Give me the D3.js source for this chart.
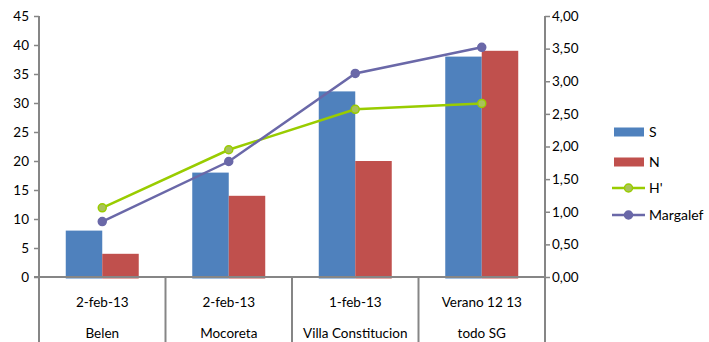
<!DOCTYPE html>
<html>
<head>
<meta charset="utf-8">
<script src="https://cdn.jsdelivr.net/npm/d3@7"></script>
<style>
  html, body { margin: 0; padding: 0; background: #fff; }
  svg { display: block; font-family: Lato, "Open Sans", sans-serif; }
</style>
</head>
<body>
<svg id="chart" width="709" height="342"></svg>
<script>
// Sampling sites and their two label rows
const sites = ["Belen", "Mocoreta", "Villa Constitucion", "todo SG"];
const dates = ["2-feb-13", "2-feb-13", "1-feb-13", "Verano 12 13"];

// Bar series (left axis)
const S = [8, 18, 32, 38];
const N = [4, 14, 20, 39];

// Line series (right axis)
const H = [1.06, 1.95, 2.57, 2.66];
const Margalef = [0.85, 1.77, 3.12, 3.52];

// Axis tick values
const leftTicks = [0, 5, 10, 15, 20, 25, 30, 35, 40, 45];
const rightTicks = [0, 0.5, 1, 1.5, 2, 2.5, 3, 3.5, 4];

const colors = { S: "#4F81BD", N: "#C0504D", H: "#99CC00", M: "#6A68A8" };
const axisColor = "#868686";

const svg = d3.select("#chart");
const plotLeft = 39, plotRight = 545, plotTop = 16, zeroY = 277, plotBottom = 342;

const x = d3.scaleBand().domain(sites).range([plotLeft, plotRight]).paddingInner(0).paddingOuter(0);
const xs = d3.scaleBand().domain(["S", "N"]).range([0, x.bandwidth()]).paddingInner(0).paddingOuter(0.733);
const yL = d3.scaleLinear().domain([0, 45]).range([zeroY, plotTop]);
const yR = d3.scaleLinear().domain([0, 4]).range([zeroY, plotTop]);

const comma = d3.formatLocale({ decimal: ",", thousands: ".", grouping: [3], currency: ["", ""] }).format(".2f");

// Bars
const barData = [];
sites.forEach((s, i) => {
  barData.push({ site: s, key: "S", v: S[i] });
  barData.push({ site: s, key: "N", v: N[i] });
});
svg.append("g").selectAll("rect").data(barData).join("rect")
  .attr("x", d => x(d.site) + xs(d.key))
  .attr("width", xs.bandwidth())
  .attr("y", d => yL(d.v))
  .attr("height", d => yL(0) - yL(d.v) + 1.5)
  .attr("fill", d => colors[d.key]);

// Axis frame: baseline, both vertical axes and category dividers
const frame = svg.append("g").attr("stroke", axisColor).attr("stroke-width", 2).attr("fill", "none");
frame.append("line").attr("x1", plotLeft - 5).attr("x2", plotRight).attr("y1", zeroY).attr("y2", zeroY);
frame.append("line").attr("x1", plotLeft).attr("x2", plotLeft).attr("y1", plotTop).attr("y2", plotBottom);
frame.append("line").attr("x1", plotRight).attr("x2", plotRight).attr("y1", plotTop).attr("y2", plotBottom);
sites.slice(1).forEach(s => {
  frame.append("line").attr("x1", x(s)).attr("x2", x(s)).attr("y1", zeroY).attr("y2", plotBottom);
});

// Left axis
const gL = svg.append("g").attr("transform", `translate(${plotLeft},0)`)
  .call(d3.axisLeft(yL).tickValues(leftTicks).tickSize(5).tickPadding(5).tickFormat(d3.format("d")));
gL.select(".domain").remove();
gL.selectAll(".tick line").attr("stroke", axisColor).attr("stroke-width", 1.5);
gL.selectAll(".tick text").attr("font-family", "Lato, sans-serif").attr("font-size", 13.5).attr("fill", "#000");

// Right axis
const gR = svg.append("g").attr("transform", `translate(${plotRight},0)`)
  .call(d3.axisRight(yR).tickValues(rightTicks).tickSize(5).tickPadding(2).tickFormat(comma));
gR.select(".domain").remove();
gR.selectAll(".tick line").attr("stroke", axisColor).attr("stroke-width", 1.5);
gR.selectAll(".tick text").attr("font-family", "Lato, sans-serif").attr("font-size", 13.5).attr("fill", "#000");

// Category labels in two rows
const cat = svg.append("g").attr("font-size", 13.5).attr("text-anchor", "middle").attr("fill", "#000");
cat.selectAll("text.date").data(sites).join("text").attr("class", "date")
  .attr("x", d => x(d) + x.bandwidth() / 2).attr("y", 307).text((d, i) => dates[i]);
cat.selectAll("text.site").data(sites).join("text").attr("class", "site")
  .attr("x", d => x(d) + x.bandwidth() / 2).attr("y", 338).text(d => d);

// Lines with markers
const cx = s => x(s) + x.bandwidth() / 2;
function drawSeries(values, color, fill) {
  const pts = sites.map((s, i) => [cx(s), yR(values[i])]);
  svg.append("path").datum(pts)
    .attr("d", d3.line())
    .attr("fill", "none").attr("stroke", color).attr("stroke-width", 2.5);
  svg.append("g").selectAll("circle").data(pts).join("circle")
    .attr("cx", d => d[0]).attr("cy", d => d[1]).attr("r", 4)
    .attr("fill", fill).attr("stroke", color).attr("stroke-width", 1.5);
}
drawSeries(H, colors.H, "#A9C25A");
drawSeries(Margalef, colors.M, colors.M);

// Legend
const legend = svg.append("g").attr("font-size", 14);
const items = [
  { name: "S", type: "bar", color: colors.S, y: 132 },
  { name: "N", type: "bar", color: colors.N, y: 162 },
  { name: "H'", type: "line", color: colors.H, fill: "#A9C25A", y: 188 },
  { name: "Margalef", type: "line", color: colors.M, fill: colors.M, y: 215 }
];
items.forEach(it => {
  if (it.type === "bar") {
    legend.append("rect").attr("x", 614).attr("y", it.y - 4.5).attr("width", 30).attr("height", 9).attr("fill", it.color);
  } else {
    legend.append("line").attr("x1", 612).attr("x2", 645).attr("y1", it.y).attr("y2", it.y)
      .attr("stroke", it.color).attr("stroke-width", 2.5);
    legend.append("circle").attr("cx", 628.5).attr("cy", it.y).attr("r", 4)
      .attr("fill", it.fill).attr("stroke", it.color).attr("stroke-width", 1.5);
  }
  legend.append("text").attr("x", 649).attr("y", it.y + 5).text(it.name);
});
</script>
</body>
</html>
